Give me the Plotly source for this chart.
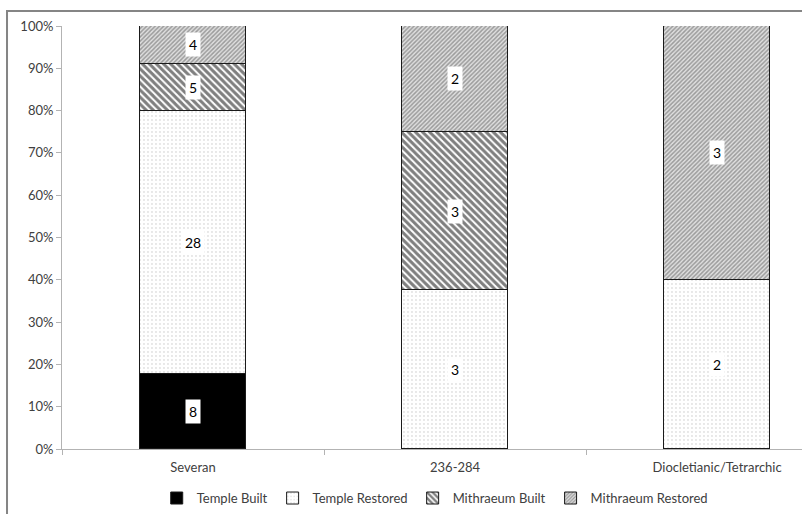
import plotly.graph_objects as go

# Building activity by period (counts of sites)
periods = ["Severan", "236-284", "Diocletianic/Tetrarchic"]
series_names = ["Temple Built", "Temple Restored", "Mithraeum Built", "Mithraeum Restored"]
temple_built = [8, 0, 0]
temple_restored = [28, 3, 2]
mithraeum_built = [5, 3, 0]
mithraeum_restored = [4, 2, 3]
y_ticks = [0, 10, 20, 30, 40, 50, 60, 70, 80, 90, 100]
y_tick_labels = [f"{t}%" for t in y_ticks]

series_values = [temple_built, temple_restored, mithraeum_built, mithraeum_restored]

# Fill patterns: solid black, fine dots, wide downward diagonal, fine upward diagonal
patterns = [
    dict(shape="", fgcolor="#000000", bgcolor="#000000"),
    dict(shape=".", size=4, solidity=0.1, fgcolor="#8a8a8a", bgcolor="#ffffff"),
    dict(shape="\\", size=5, solidity=0.6, fgcolor="#000000", bgcolor="#ffffff"),
    dict(shape="/", size=3, solidity=0.5, fgcolor="#555555", bgcolor="#e0e0e0"),
]
fills = ["#000000", "#ffffff", "#ffffff", "#e0e0e0"]

font_family = "Lato"
text_color = "#404040"

fig = go.Figure()
for name, vals, pat, fill in zip(series_names, series_values, patterns, fills):
    fig.add_trace(go.Bar(
        name=name,
        x=periods,
        y=[v if v else None for v in vals],
        width=0.405,
        marker=dict(color=fill, pattern=pat, line=dict(color="#1a1a1a", width=1)),
        hoverinfo="skip",
    ))

# Value labels in white boxes at the middle of each segment
totals = [sum(col) for col in zip(*series_values)]
annotations = []
for i, period in enumerate(periods):
    cum = 0
    for vals in series_values:
        v = vals[i]
        if v:
            mid = (cum + v / 2) / totals[i] * 100
            annotations.append(dict(
                x=period, y=mid, xref="x", yref="y", text=str(v), showarrow=False,
                bgcolor="#ffffff", borderpad=3,
                font=dict(family=font_family, size=14, color="#000000"),
            ))
        cum += v

# Outer chart frame: a large bordered box anchored at the top-left corner
annotations.append(dict(
    xref="paper", yref="paper", x=-0.0757, y=1.039, xanchor="left", yanchor="top",
    text=" ", showarrow=False, width=1200, height=800, borderpad=0,
    bordercolor="#858585", borderwidth=2, bgcolor="rgba(0,0,0,0)",
))
frame = dict(color="#858585", width=2)
shapes = [
    dict(type="line", xref="paper", yref="paper", x0=-0.0743, x1=-0.0743, y0=-0.4, y1=1.0378, line=frame),
]

fig.update_layout(
    width=802, height=514,
    margin=dict(l=62, r=0, t=26, b=65),
    paper_bgcolor="#ffffff", plot_bgcolor="#ffffff",
    barmode="stack", barnorm="percent", bargap=0,
    font=dict(family=font_family, size=13, color=text_color),
    annotations=annotations,
    shapes=shapes,
    showlegend=True,
    legend=dict(
        orientation="h", x=0.128, xanchor="left", y=-0.116, yanchor="middle",
        font=dict(family=font_family, size=13, color=text_color),
        traceorder="normal", itemwidth=30,
    ),
    xaxis=dict(
        type="category", range=[-0.5, 2.324],
        showline=True, linecolor="#b3b3b3", linewidth=1,
        ticks="outside", tickson="boundaries", ticklen=5, tickcolor="#b3b3b3",
        ticklabelstandoff=6,
        showgrid=False, zeroline=False,
        tickfont=dict(family=font_family, size=13, color=text_color),
    ),
    yaxis=dict(
        range=[0, 100], tickmode="array", tickvals=y_ticks, ticktext=y_tick_labels,
        showline=True, linecolor="#b3b3b3", linewidth=1,
        ticks="outside", ticklen=5, tickcolor="#b3b3b3",
        showgrid=False, zeroline=False,
        tickfont=dict(family=font_family, size=13, color=text_color),
    ),
)

fig.write_html("out.html")
